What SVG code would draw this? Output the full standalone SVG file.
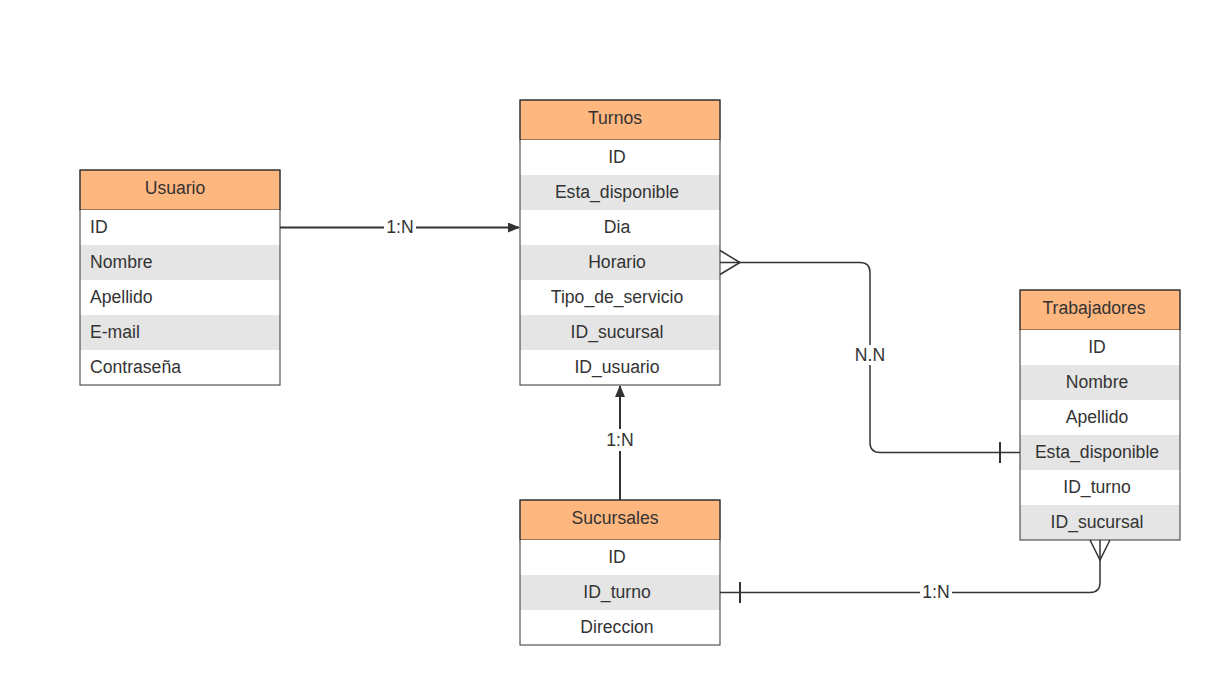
<svg xmlns="http://www.w3.org/2000/svg" width="1219" height="680" viewBox="0 0 1219 680">
<style>
.hd{fill:#ffb780;stroke:#333;stroke-width:1}
.w{fill:#fff}
.g{fill:#e5e5e5}
.box{fill:none;stroke:#333;stroke-width:1}
text{font-family:"Liberation Sans",Arial,sans-serif;font-size:17.6px;fill:#333}
.c{text-anchor:middle}
.ln{fill:none;stroke:#333;stroke-width:1.5}
.lb{fill:#fff}
</style>
<defs>
<marker id="arr" markerWidth="12" markerHeight="10" refX="11" refY="5" orient="auto" markerUnits="userSpaceOnUse">
<path d="M0,0 L12,5 L0,10 Z" fill="#333"/>
</marker>
</defs>
<rect width="1219" height="680" fill="#fff"/>
<g id="usuario">
<rect class="hd" x="80" y="170" width="200" height="40"/>
<rect class="w" x="80" y="210" width="200" height="35"/>
<rect class="g" x="80" y="245" width="200" height="35"/>
<rect class="w" x="80" y="280" width="200" height="35"/>
<rect class="g" x="80" y="315" width="200" height="35"/>
<rect class="w" x="80" y="350" width="200" height="35"/>
<rect class="box" x="80" y="170" width="200" height="215"/>
<text class="c" x="175" y="194">Usuario</text>
<text x="90" y="233">ID</text>
<text x="90" y="268">Nombre</text>
<text x="90" y="303">Apellido</text>
<text x="90" y="338">E-mail</text>
<text x="90" y="373">Contraseña</text>
</g>
<g id="turnos">
<rect class="hd" x="520" y="100" width="200" height="40"/>
<rect class="w" x="520" y="140" width="200" height="35"/>
<rect class="g" x="520" y="175" width="200" height="35"/>
<rect class="w" x="520" y="210" width="200" height="35"/>
<rect class="g" x="520" y="245" width="200" height="35"/>
<rect class="w" x="520" y="280" width="200" height="35"/>
<rect class="g" x="520" y="315" width="200" height="35"/>
<rect class="w" x="520" y="350" width="200" height="35"/>
<rect class="box" x="520" y="100" width="200" height="285"/>
<text class="c" x="615" y="124">Turnos</text>
<text class="c" x="617" y="163">ID</text>
<text class="c" x="617" y="198">Esta_disponible</text>
<text class="c" x="617" y="233">Dia</text>
<text class="c" x="617" y="268">Horario</text>
<text class="c" x="617" y="303">Tipo_de_servicio</text>
<text class="c" x="617" y="338">ID_sucursal</text>
<text class="c" x="617" y="373">ID_usuario</text>
</g>
<g id="trabajadores">
<rect class="hd" x="1020" y="290" width="160" height="40"/>
<rect class="w" x="1020" y="330" width="160" height="35"/>
<rect class="g" x="1020" y="365" width="160" height="35"/>
<rect class="w" x="1020" y="400" width="160" height="35"/>
<rect class="g" x="1020" y="435" width="160" height="35"/>
<rect class="w" x="1020" y="470" width="160" height="35"/>
<rect class="g" x="1020" y="505" width="160" height="35"/>
<rect class="box" x="1020" y="290" width="160" height="250"/>
<text class="c" x="1094" y="314">Trabajadores</text>
<text class="c" x="1097" y="353">ID</text>
<text class="c" x="1097" y="388">Nombre</text>
<text class="c" x="1097" y="423">Apellido</text>
<text class="c" x="1097" y="458">Esta_disponible</text>
<text class="c" x="1097" y="493">ID_turno</text>
<text class="c" x="1097" y="528">ID_sucursal</text>
</g>
<g id="sucursales">
<rect class="hd" x="520" y="500" width="200" height="40"/>
<rect class="w" x="520" y="540" width="200" height="35"/>
<rect class="g" x="520" y="575" width="200" height="35"/>
<rect class="w" x="520" y="610" width="200" height="35"/>
<rect class="box" x="520" y="500" width="200" height="145"/>
<text class="c" x="615" y="524">Sucursales</text>
<text class="c" x="617" y="563">ID</text>
<text class="c" x="617" y="598">ID_turno</text>
<text class="c" x="617" y="633">Direccion</text>
</g>
<g id="connectors">
<path class="ln" style="stroke-width:2" d="M280,227.5 H519" marker-end="url(#arr)"/>
<rect class="lb" x="384" y="218" width="32" height="18"/>
<text class="c" x="400" y="233">1:N</text>
<path class="ln" style="stroke-width:2" d="M620,500 V386" marker-end="url(#arr)"/>
<rect class="lb" x="603" y="429" width="34" height="22"/>
<text class="c" x="620" y="446">1:N</text>
<path class="ln" d="M720,262.5 H860 Q870,262.5 870,272.5 V442.5 Q870,452.5 880,452.5 H1020"/>
<path class="ln" d="M720,250.5 L740,262.5 L720,274.5"/>
<path class="ln" style="stroke-width:2" d="M1000,442 V463"/>
<rect class="lb" x="853" y="345" width="34" height="20"/>
<text class="c" x="870" y="361">N.N</text>
<path class="ln" d="M720,592.5 H1090 Q1100,592.5 1100,582.5 V540"/>
<path class="ln" d="M1090,540 L1100,560 L1110,540"/>
<path class="ln" style="stroke-width:2" d="M740,582 V603"/>
<rect class="lb" x="920" y="583" width="32" height="18"/>
<text class="c" x="936" y="598">1:N</text>
</g>
</svg>
